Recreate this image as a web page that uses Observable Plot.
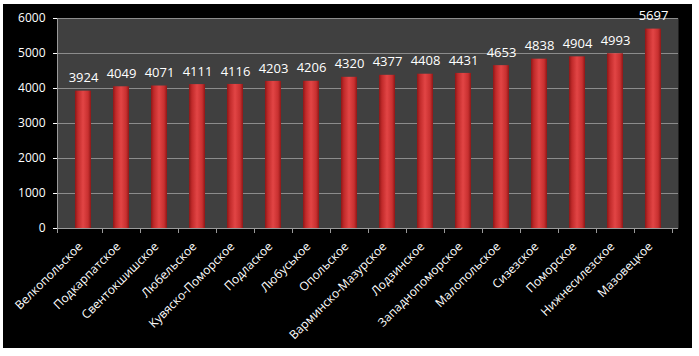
<!DOCTYPE html>
<html><head><meta charset="utf-8">
<script src="https://cdn.jsdelivr.net/npm/d3@7"></script>
<script src="https://cdn.jsdelivr.net/npm/@observablehq/plot@0.6"></script>
<style>
html,body{margin:0;padding:0;background:#fff;width:699px;height:356px;overflow:hidden}
#chart{position:absolute;left:3px;top:4px;width:689px;height:344px;background:#000}
svg{display:block}
</style></head><body><div id="chart"></div>
<script>
const regions = ["Велкопольское","Подкарпатское","Свентокшишское","Любельское","Кувяско-Поморское","Подлаское","Любуськое","Опольское","Варминско-Мазурское","Лодзинскоe","Западнопоморское","Малопольское","Сизезское","Поморское","Нижнесилезское","Мазовецкое"];
const values = [3924,4049,4071,4111,4116,4203,4206,4320,4377,4408,4431,4653,4838,4904,4993,5697];
const yTicks = [0,1000,2000,3000,4000,5000,6000];
const data = regions.map((r,i)=>({region:r, value:values[i]}));

const font = "'Open Sans', sans-serif";
const W = 689, H = 344;

const axisDecor = (index, scales, values, dims) => {
  const g = d3.create("svg:g");
  const x = scales.x, y = scales.y;
  const y0 = y(0), yTop = y(6000);
  const step = x.step();
  const left = dims.marginLeft, right = dims.width - dims.marginRight;
  g.append("line").attr("x1", left+0.5).attr("x2", left+0.5).attr("y1", yTop).attr("y2", y0).attr("stroke", "#9a9a9a");
  g.append("line").attr("x1", left).attr("x2", right).attr("y1", y0+0.5).attr("y2", y0+0.5).attr("stroke", "#9a9a9a");
  const xs = [left, ...regions.map(r => x(r) + x.bandwidth()/2 + step/2)];
  xs.forEach(px => g.append("line").attr("x1", Math.round(px)+0.5).attr("x2", Math.round(px)+0.5).attr("y1", y0).attr("y2", y0+5).attr("stroke", "#9a9a9a"));
  return g.node();
};

const plot = Plot.plot({
  width: W, height: H,
  marginLeft: 54, marginTop: 14, marginRight: 14, marginBottom: 120,
  style: {background: "transparent", color: "#fff", fontFamily: font, fontSize: "12px"},
  x: {domain: regions, paddingInner: 0.58, paddingOuter: 0.29, label: null, tickSize: 0, tickRotate: -45, tickPadding: 14},
  y: {domain: [0, 6000], ticks: yTicks, label: null, tickSize: 4, tickPadding: 8, tickFormat: d => String(d)},
  marks: [
    Plot.frame({fill: "#404040", stroke: null}),
    Plot.ruleY(yTicks.filter(d => d > 0), {stroke: "#8c8c8c", strokeWidth: 1}),
    Plot.barY(data, {x: "region", y: "value", fill: "url(#barGrad)"}),
    Plot.tickY(data, {x: "region", y: "value", stroke: "url(#capGrad)", strokeWidth: 4, dy: 2}),
    Plot.text(data, {x: "region", y: "value", text: d => String(d.value), dy: -13, fill: "#fff", fontSize: 13, fontFamily: font}),
    axisDecor
  ]
});

const svg = d3.select(plot);
svg.selectAll("g[aria-label='x-axis tick label'] text, g[aria-label='y-axis tick label'] text").attr("fill", "#fff");
svg.selectAll("g[aria-label='x-axis tick label']").attr("transform", function(){ return (this.getAttribute("transform")||"") + " translate(-3,2)"; });
const defs = svg.insert("defs", ":first-child");
const bg = defs.append("linearGradient").attr("id", "barGrad").attr("x1", "0").attr("x2", "1").attr("y1", "0").attr("y2", "0");
[[0,"#8e1717"],[0.18,"#c02a2a"],[0.5,"#e24545"],[0.82,"#c83030"],[1,"#8e1717"]].forEach(([o,c]) => bg.append("stop").attr("offset", o).attr("stop-color", c));
const cg = defs.append("linearGradient").attr("id", "capGrad").attr("x1", "0").attr("x2", "1").attr("y1", "0").attr("y2", "0");
[[0,"#c04545"],[0.5,"#f59a9a"],[1,"#c04545"]].forEach(([o,c]) => cg.append("stop").attr("offset", o).attr("stop-color", c));

document.getElementById("chart").appendChild(plot);
</script></body></html>
